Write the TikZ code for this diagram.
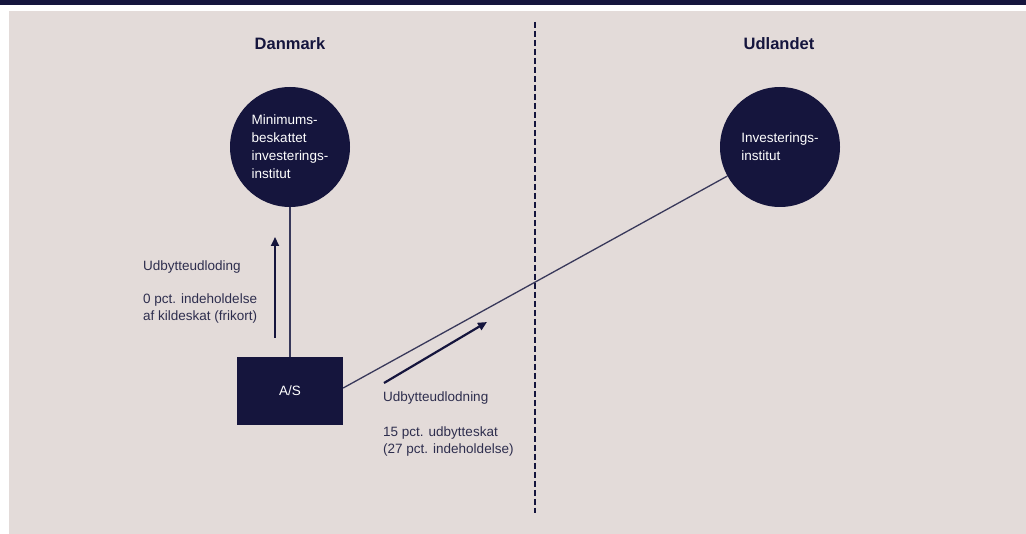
\documentclass[tikz,border=0pt]{standalone}
\usepackage{fontspec}
\setmainfont{Liberation Sans}
\usetikzlibrary{arrows.meta}
\definecolor{navy}{HTML}{15153D}
\definecolor{bg}{HTML}{E3DBD9}
\definecolor{txt}{HTML}{2E2E4E}
\tikzset{
  lbl/.style={inner sep=0pt, text=txt, align=left, font=\fontsize{13.5}{17}\selectfont},
  hdr/.style={inner sep=0pt, text=navy, font=\fontsize{16.5}{20}\selectfont\bfseries},
  circ/.style={circle, fill=navy, minimum size=120pt, inner sep=0pt, text=white, align=left, font=\fontsize{13.5}{18}\selectfont},
  boxnode/.style={rectangle, fill=navy, minimum width=106pt, minimum height=68pt, inner sep=0pt, text=white, font=\fontsize{13.5}{17}\selectfont},
  conn/.style={draw=navy!85!white, line width=1.3pt},
  flow/.style={draw=navy, line width=2.2pt, -{Triangle[length=9pt,width=8pt]}},
  divider/.style={draw=navy, line width=1.8pt, dash pattern=on 6pt off 3pt}
}
\begin{document}
\begin{tikzpicture}[x=1pt,y=-1pt]
\useasboundingbox (0,0) rectangle (1026,534);
\fill[white] (0,0) rectangle (1026,534);
\fill[navy] (0,0) rectangle (1026,5);
\fill[bg] (9,11) rectangle (1026,534);

\node[hdr] (dk) at (290,44) {Danmark};
\node[hdr] (ud) at (779,44) {Udlandet};

\coordinate (dtop) at (535,22);
\coordinate (dbot) at (535,513);
\draw[divider] (dtop) -- (dbot);

\node[circ] (mbi) at (290,147) {Minimums-\\beskattet\\investerings-\\institut};
\node[circ] (ii) at (780,147) {Investerings-\\institut};
\node[boxnode] (as) at (290,391) {A/S};

\draw[conn] (mbi) -- (as);
\draw[conn] ([yshift=3pt]as.east) -- (ii);

\coordinate (a1s) at (275,338);
\coordinate (a1e) at (275,237);
\draw[flow] (a1s) -- (a1e);
\coordinate (a2s) at (384,383);
\coordinate (a2e) at (487,322);
\draw[flow] (a2s) -- (a2e);

\node[lbl, anchor=west] (l1) at (143,267) {Udbytteudloding};
\node[lbl, anchor=west] (l2) at (143,308.5) {0 pct. indeholdelse\\af kildeskat (frikort)};
\node[lbl, anchor=west] (l3) at (383,398) {Udbytteudlodning};
\node[lbl, anchor=west] (l4) at (383,442) {15 pct. udbytteskat\\(27 pct. indeholdelse)};
\end{tikzpicture}
\end{document}
